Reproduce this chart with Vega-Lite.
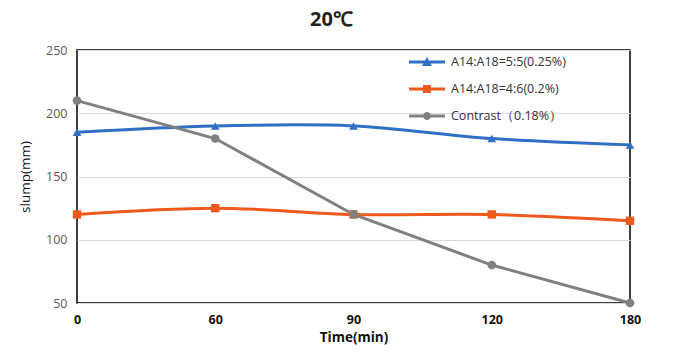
{
  "$schema": "https://vega.github.io/schema/vega-lite/v6.json",
  "autosize": {"type": "none"},
  "padding": {"left": 77, "top": 50, "right": 53, "bottom": 54},
  "width": 553,
  "height": 253,
  "background": "white",
  "title": {"text": "20℃", "font": "Open Sans", "fontSize": 20, "fontWeight": "bold", "color": "#222222", "offset": 14, "dx": -22},
  "config": {
    "view": {"stroke": "#000000", "strokeWidth": 1.5},
    "font": "Open Sans"
  },
  "data": {"values": [
    {"time": "0", "series": "A14:A18=5:5(0.25%)", "slump": 185},
    {"time": "60", "series": "A14:A18=5:5(0.25%)", "slump": 190},
    {"time": "90", "series": "A14:A18=5:5(0.25%)", "slump": 190},
    {"time": "120", "series": "A14:A18=5:5(0.25%)", "slump": 180},
    {"time": "180", "series": "A14:A18=5:5(0.25%)", "slump": 175},
    {"time": "0", "series": "A14:A18=4:6(0.2%)", "slump": 120},
    {"time": "60", "series": "A14:A18=4:6(0.2%)", "slump": 125},
    {"time": "90", "series": "A14:A18=4:6(0.2%)", "slump": 120},
    {"time": "120", "series": "A14:A18=4:6(0.2%)", "slump": 120},
    {"time": "180", "series": "A14:A18=4:6(0.2%)", "slump": 115},
    {"time": "0", "series": "Contrast（0.18%）", "slump": 210},
    {"time": "60", "series": "Contrast（0.18%）", "slump": 180},
    {"time": "90", "series": "Contrast（0.18%）", "slump": 120},
    {"time": "120", "series": "Contrast（0.18%）", "slump": 80},
    {"time": "180", "series": "Contrast（0.18%）", "slump": 50}
  ]},
  "encoding": {
    "x": {
      "field": "time", "type": "ordinal", "sort": ["0", "60", "90", "120", "180"],
      "scale": {"type": "point", "padding": 0},
      "axis": {"title": "Time(min)", "labelAngle": 0, "ticks": false, "domain": false, "labelPadding": 10,
               "labelFontSize": 12.5, "labelFontWeight": "bold", "labelColor": "#111111",
               "titleFontSize": 13.5, "titleFontWeight": "bold", "titleColor": "#111111", "titlePadding": 5}
    },
    "y": {
      "field": "slump", "type": "quantitative",
      "scale": {"domain": [50, 250], "nice": false, "zero": false},
      "axis": {"title": "slump(mm)", "values": [50, 100, 150, 200, 250], "ticks": false, "domain": false,
               "labelPadding": 10, "labelFontSize": 12.5, "labelColor": "#595959",
               "gridColor": "#d9d9d9", "gridWidth": 1,
               "titleFontSize": 13.5, "titleFontWeight": "normal", "titleColor": "#111111", "titlePadding": 13}
    },
    "color": {
      "field": "series", "type": "nominal",
      "scale": {"domain": ["A14:A18=5:5(0.25%)", "A14:A18=4:6(0.2%)", "Contrast（0.18%）"],
                "range": ["#2f6fc6", "#ee5a1e", "#808080"]},
      "legend": {
        "title": null, "orient": "none", "legendX": 340, "legendY": 2,
        "symbolSize": 400, "labelOffset": 14, "rowPadding": 10,
        "labelFontSize": 12.5, "labelColor": "#333333", "symbolStrokeWidth": 0, "symbolOpacity": 1,
        "encode": {"symbols": {"update": {
          "fill": {"scale": "color", "field": "value"},
          "strokeWidth": {"value": 0},
          "shape": {"signal": "indexof(datum.value, '5:5') >= 0 ? 'M-1.8,-0.14H1.8V0.14H-1.8Z M0,-0.5L0.5,0.4L-0.5,0.4Z' : indexof(datum.value, '4:6') >= 0 ? 'M-1.8,-0.14H1.8V0.14H-1.8Z M-0.4,-0.4H0.4V0.4H-0.4Z' : 'M-1.8,-0.14H1.8V0.14H-1.8Z M-0.4,0A0.4,0.4,0,1,1,0.4,0A0.4,0.4,0,1,1,-0.4,0Z'"}
        }}}
      }
    }
  },
  "layer": [
    {
      "transform": [{"filter": "datum.series !== 'Contrast（0.18%）'"}],
      "mark": {"type": "line", "strokeWidth": 3, "interpolate": "catmull-rom"}
    },
    {
      "transform": [{"filter": "datum.series === 'Contrast（0.18%）'"}],
      "mark": {"type": "line", "strokeWidth": 3, "interpolate": "linear"}
    },
    {
      "transform": [{"filter": "datum.series === 'A14:A18=5:5(0.25%)'"}],
      "mark": {"type": "point", "filled": true, "opacity": 1, "size": 75, "shape": "triangle-up"}
    },
    {
      "transform": [{"filter": "datum.series === 'A14:A18=4:6(0.2%)'"}],
      "mark": {"type": "point", "filled": true, "opacity": 1, "size": 70, "shape": "square"}
    },
    {
      "transform": [{"filter": "datum.series === 'Contrast（0.18%）'"}],
      "mark": {"type": "point", "filled": true, "opacity": 1, "size": 75, "shape": "circle"}
    }
  ]
}
